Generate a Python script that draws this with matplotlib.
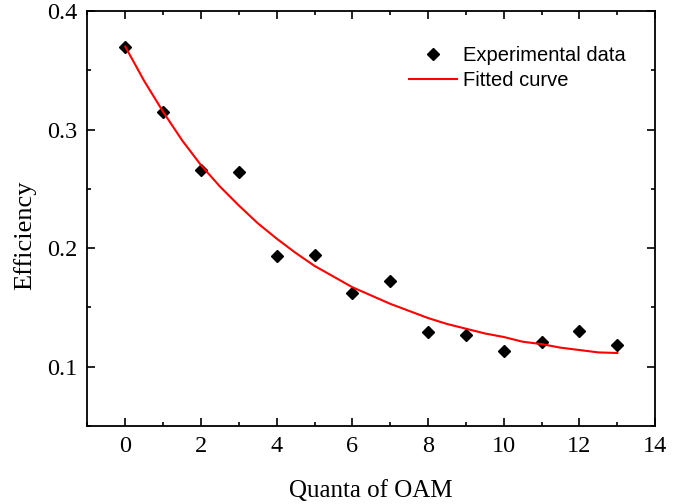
import matplotlib.pyplot as plt
from matplotlib.ticker import MultipleLocator

quanta = [0, 1, 2, 3, 4, 5, 6, 7, 8, 9, 10, 11, 12, 13]
efficiency = [0.370, 0.315, 0.266, 0.264, 0.193, 0.194, 0.162, 0.172,
              0.129, 0.127, 0.113, 0.121, 0.130, 0.118]

# Fitted curve, sampled off the figure every half step
fit_x = [0, 0.5, 1, 1.5, 2, 2.5, 3, 3.5, 4, 4.5, 5, 5.5, 6, 6.5, 7,
         7.5, 8, 8.5, 9, 9.5, 10, 10.5, 11, 11.5, 12, 12.5, 13]
fit_y = [0.370, 0.341, 0.315, 0.291, 0.270, 0.252, 0.236, 0.221, 0.208,
         0.196, 0.185, 0.176, 0.167, 0.160, 0.153, 0.147, 0.141, 0.136,
         0.132, 0.128, 0.125, 0.121, 0.119, 0.116, 0.114, 0.112, 0.1115]

fig = plt.figure(figsize=(6.94, 5.04), dpi=100)
ax = fig.add_axes([0.126, 0.155, 0.818, 0.823])

ax.plot(quanta, efficiency, linestyle="none", marker="D", markersize=6,
        color="black", label="Experimental data")
ax.plot(fit_x, fit_y, color="red", linewidth=1.5, label="Fitted curve")

ax.set_xlim(-1, 14)
ax.set_ylim(0.05, 0.4)
ax.xaxis.set_major_locator(MultipleLocator(2))
ax.xaxis.set_minor_locator(MultipleLocator(1))
ax.yaxis.set_major_locator(MultipleLocator(0.1))
ax.yaxis.set_minor_locator(MultipleLocator(0.05))
ax.tick_params(which="both", direction="in", top=True, right=True, width=1.2)
ax.tick_params(which="major", length=6)
ax.tick_params(which="minor", length=3)
ax.tick_params(axis="x", which="major", pad=7)
ax.tick_params(axis="y", which="major", pad=7)
for spine in ax.spines.values():
    spine.set_linewidth(1.3)

serif = "Liberation Serif"
for lbl in ax.get_xticklabels() + ax.get_yticklabels():
    lbl.set_fontfamily(serif)
    lbl.set_fontsize(17.5)
ax.set_xlabel("Quanta of OAM", fontfamily=serif, fontsize=18, labelpad=17)
ax.set_ylabel("Efficiency", fontfamily=serif, fontsize=19)
ax.yaxis.set_label_coords(-0.09, 0.46)

ax.legend(loc="upper right", bbox_to_anchor=(0.949, 0.916), frameon=False,
          prop={"family": "Liberation Sans", "size": 14.5},
          handlelength=2.4, handletextpad=0.3, labelspacing=0.3,
          borderaxespad=0, borderpad=0)

fig.savefig("out.png", dpi=100)
plt.close(fig)
